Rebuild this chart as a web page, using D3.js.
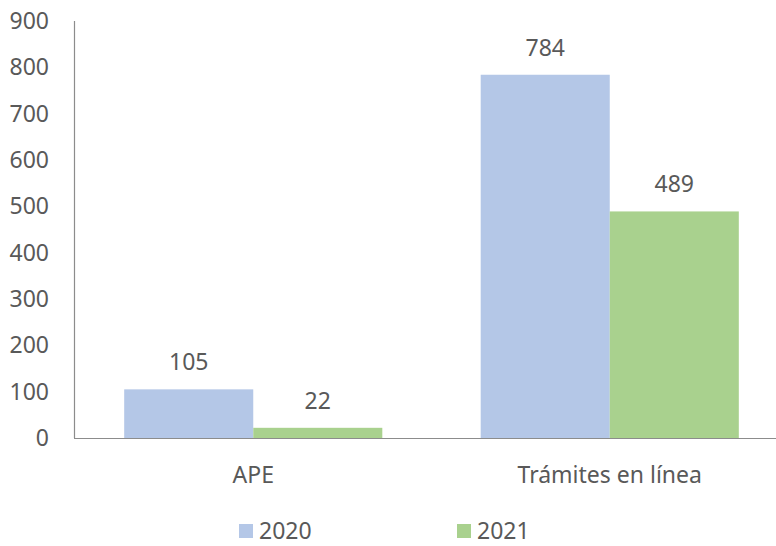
<!DOCTYPE html>
<html>
<head>
<meta charset="utf-8">
<script src="https://cdn.jsdelivr.net/npm/d3@7"></script>
<style>
  body { margin: 0; background: #fff; }
  svg text { font-family: 'Noto Sans', sans-serif; fill: #595959; }
</style>
</head>
<body>
<svg id="chart" width="776" height="546"></svg>
<script>
	'use strict';

	var categories = ['APE', 'Trámites en línea'];
	var seriesNames = ['2020', '2021'];
	var values2020 = [105, 784];
	var values2021 = [22, 489];
	var yTicks = [0, 100, 200, 300, 400, 500, 600, 700, 800, 900];
	var colors = ['#b4c7e7', '#a9d18e'];

	var svg = d3.select('#chart');
	var fontSize = '23px';
	var rows = categories.map(function(c, i) {
		return {cat: c, vals: [values2020[i], values2021[i]]};
	});

	var y = d3.scaleLinear().domain([0, 900]).range([438, 21]);
	var x0 = d3.scaleBand().domain(categories).range([75, 788])
		.paddingInner(0.276).paddingOuter(0.138);
	var x1 = d3.scaleBand().domain(seriesNames).range([0, x0.bandwidth()]);

	// y axis labels
	var yAxis = d3.axisLeft(y).tickValues(yTicks).tickSize(0).tickPadding(0);
	var yg = svg.append('g').attr('transform', 'translate(49,0)').call(yAxis);
	yg.select('.domain').remove();
	yg.selectAll('text').style('font-size', fontSize).attr('fill', '#595959')
		.attr('font-family', 'Noto Sans');

	// bars
	var groups = svg.selectAll('g.cat').data(rows).enter().append('g')
		.attr('class', 'cat')
		.attr('transform', function(d) { return 'translate(' + x0(d.cat) + ',0)'; });

	groups.selectAll('rect').data(function(d) { return d.vals; }).enter().append('rect')
		.attr('x', function(d, i) { return x1(seriesNames[i]); })
		.attr('y', function(d) { return y(d); })
		.attr('width', x1.bandwidth())
		.attr('height', function(d) { return y(0) - y(d); })
		.attr('fill', function(d, i) { return colors[i]; });

	groups.selectAll('text.val').data(function(d) { return d.vals; }).enter().append('text')
		.attr('class', 'val')
		.attr('x', function(d, i) { return x1(seriesNames[i]) + x1.bandwidth() / 2; })
		.attr('y', function(d) { return y(d) - 27; })
		.attr('dy', '0.35em')
		.attr('text-anchor', 'middle')
		.style('font-size', fontSize)
		.text(function(d) { return d; });

	// axis lines
	svg.append('line').attr('x1', 74.5).attr('x2', 74.5).attr('y1', y(900)).attr('y2', y(0))
		.attr('stroke', '#8c8c8c').attr('stroke-width', 1.2);
	svg.append('line').attr('x1', 74).attr('x2', 776).attr('y1', y(0) + 0.5).attr('y2', y(0) + 0.5)
		.attr('stroke', '#8c8c8c').attr('stroke-width', 1.2);

	// category labels
	svg.selectAll('text.cat').data(categories).enter().append('text')
		.attr('class', 'cat')
		.attr('x', function(d) { return x0(d) + x0.bandwidth() / 2; })
		.attr('y', 475).attr('dy', '0.35em')
		.attr('text-anchor', 'middle')
		.style('font-size', fontSize)
		.text(function(d) { return d; });

	// legend
	var legendX = [239, 457];
	var leg = svg.selectAll('g.leg').data(seriesNames).enter().append('g')
		.attr('class', 'leg')
		.attr('transform', function(d, i) { return 'translate(' + legendX[i] + ',524)'; });
	leg.append('rect').attr('width', 14).attr('height', 14)
		.attr('fill', function(d, i) { return colors[i]; });
	leg.append('text').attr('x', 20).attr('y', 7).attr('dy', '0.35em')
		.style('font-size', fontSize)
		.text(function(d) { return d; });
</script>
</body>
</html>
